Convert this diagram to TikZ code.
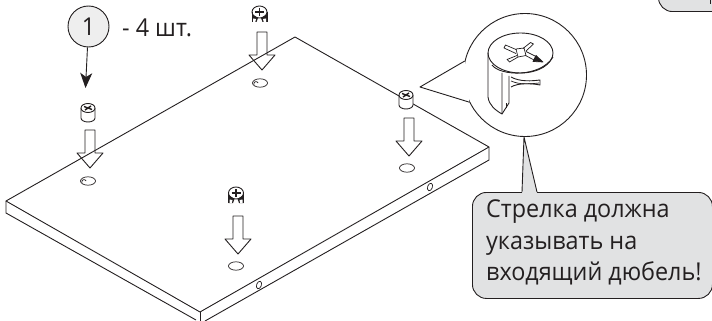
\documentclass[tikz,border=0pt]{standalone}
\usepackage{fontspec}
\setmainfont[FakeStretch=0.95]{Open Sans}
\usetikzlibrary{arrows.meta, positioning, calc}
\definecolor{inkcol}{HTML}{231F20}
\definecolor{notecol}{HTML}{E1E2E3}
\definecolor{labelcol}{HTML}{EEEEEE}
\tikzset{
    partline/.style={draw=inkcol, line width=0.9pt, line join=round},
    thinline/.style={draw=inkcol, line width=0.7pt, line join=round},
    notetext/.style={text=inkcol, font=\fontsize{24.6}{31.5}\selectfont, align=left, inner sep=0pt, anchor=north west},
    pics/downarrow/.style={code={
        \draw[partline] (-5,38) -- (-5,15) -- (-13,15) -- (0,0) -- (13,15) -- (5,15) -- (5,38) -- cycle;
    }},
    pics/camdowel/.style={code={
        \draw[partline, fill=white] (-7,0) -- (-7,-10) arc (180:360:7 and 4) -- (7,0);
        \draw[partline, fill=white] (0,0) ellipse (7 and 4.5);
        \draw[partline, line width=1.4pt] (-4,1.5) -- (4,-1.5) (-3,-2) -- (3,2);
    }},
    pics/legdowel/.style={code={
        \draw[partline, fill=white] (0,0) ellipse (7.5 and 6);
        \draw[partline] (-7.5,0) -- (-7.5,-10) (7.5,0) -- (7.5,-10);
        \draw[partline, line width=1.6pt] (-4.5,0) -- (4.5,0) (0,4) -- (0,-4);
        \fill[inkcol] (-7.5,-2) -- (-1.5,-6) -- (-3,-10) -- (-7.5,-10) -- cycle;
        \fill[inkcol] (7.5,-2) -- (1.5,-6) -- (3,-10) -- (7.5,-10) -- cycle;
        \fill[white] (-6.5,-6.5) -- (-3.5,-7) -- (-4.2,-10) -- (-6.5,-10) -- cycle;
        \fill[white] (6.5,-6.5) -- (3.5,-7) -- (4.2,-10) -- (6.5,-10) -- cycle;
    }}
}

\begin{document}
\begin{tikzpicture}[x=1pt, y=1pt]
    \path[use as bounding box, clip] (0,0) rectangle (712,-321);

    % board
    \coordinate (backc) at (295,-37);
    \coordinate (rightc) at (489,-147);
    \coordinate (frontc) at (200,-312);
    \coordinate (leftc) at (6,-201);
    \draw[partline] (backc) -- (rightc) -- (frontc) -- (leftc) -- cycle;
    \draw[partline] (rightc) -- ++(0,-13) -- ++(-284,-161);
    \draw[partline] (leftc) -- ++(0,-12) -- ++(190,-107);
    \draw[partline] (frontc) -- ++(0,-12);

    % holes
    \foreach \hx/\hy in {260/-83, 88/-181} {
        \draw[thinline] (\hx,\hy) ellipse (7.5 and 4.2);
        \draw[thinline] (\hx-6,\hy-1.5) arc (200:20:2.2);
    }
    \foreach \hx/\hy in {407/-168, 236/-266} {
        \draw[thinline] (\hx,\hy) ellipse (7.5 and 4.2);
    }
    \foreach \hx/\hy in {259/-285, 430/-187} {
        \draw[thinline, rotate around={-20:(\hx,\hy)}] (\hx,\hy) ellipse (2.4 and 3.9);
    }

    % arrows and dowels
    \pic at (262,-70) {downarrow};
    \pic at (90,-168) {downarrow};
    \pic at (409,-156) {downarrow};
    \pic at (238,-254) {downarrow};
    \pic at (88,-108) {camdowel};
    \pic at (406,-95) {camdowel};
    \pic at (259.5,-12) {legdowel};
    \pic at (236,-193) {legdowel};

    % label
    \node[partline, circle, fill=labelcol, minimum size=41pt, inner sep=0pt,
          text=inkcol, font=\fontsize{24.6}{30}\selectfont] (partno) at (88.5,-26.5) {1};
    \node[text=inkcol, font=\fontsize{24.6}{30}\selectfont, anchor=base west, inner sep=0pt] (partcount) at (122,-37) {- 4 шт.};
    \coordinate (partend) at (85.5,-88);
    \draw[draw=inkcol, line width=0.9pt, -{Stealth[length=15pt, width=12pt, inset=4pt]}] (partno) -- (partend);

    % zoomed dowel
    \node[partline, circle, fill=white, minimum size=123pt, inner sep=0pt] (zoomc) at (525,-75) {};
    \coordinate (zoomtip) at (420,-87);
    \fill[white] (zoomc.167) -- (zoomtip) -- (zoomc.206) -- cycle;
    \draw[partline] (zoomc.167) -- (zoomtip) -- (zoomc.206);
    \draw[partline] (488,-53) -- (488,-97) .. controls (489,-105) and (495,-110) .. (502,-114) -- (502,-73);
    \draw[partline] (502,-114) -- (509,-103) -- (509,-76);
    \draw[thinline] (506.5,-108) -- (506.5,-103);
    \draw[partline] (520.5,-53) ellipse (32.5 and 20);
    \draw[partline] (492,-65) .. controls (500,-76) and (540,-78) .. (553,-57);
    % fin
    \draw[partline] (511,-77) .. controls (520,-82) and (532,-81) .. (540,-80) -- (540,-85)
        .. controls (530,-83) and (518,-83) .. (511,-87);
    \draw[thinline] (511,-81) .. controls (520,-85) and (530,-84) .. (539,-83);
    % cross head
    \draw[thinline] (516,-49.5) -- (505.5,-45) -- (504,-48) -- (516,-53.5);
    \draw[thinline] (517,-55.5) -- (507,-59.5) -- (509.5,-62) -- (518,-57);
    \draw[thinline] (523,-48.5) -- (530.5,-42.5) -- (533.5,-44) -- (526,-51);
    \draw[thinline] (526,-51.5) -- (536,-56.5) (525.5,-55.5) -- (534,-60);
    \draw[thinline, fill=inkcol] (536,-55.5) -- (543,-62) -- (533,-61.5) -- cycle;
    \draw[thinline] (516,-49) -- (524,-48) -- (526,-55.5) -- (518,-57) -- cycle;

    % note
    \node[partline, rounded corners=14pt, fill=notecol, minimum width=240pt, minimum height=106pt,
          anchor=north west] (notebox) at (472,-192) {};
    \coordinate (noteroot) at (524,-137);
    \fill[notecol] (522,-193) -- (noteroot) -- (537,-193) -- cycle;
    \draw[partline] (522,-192) -- (noteroot) -- (537,-192);
    \node[notetext] (notetxt) at (486,-199.5) {Стрелка должна\\указывать на\\входящий дюбель!};

    % next note, cut off by the page edge
    \node[partline, rounded corners=14pt, fill=notecol, minimum width=100pt, minimum height=40pt,
          anchor=south west] (nextbox) at (658,-12) {};
    \draw[draw=inkcol, line width=1pt] (710,0) -- (710,-4);
\end{tikzpicture}
\end{document}
